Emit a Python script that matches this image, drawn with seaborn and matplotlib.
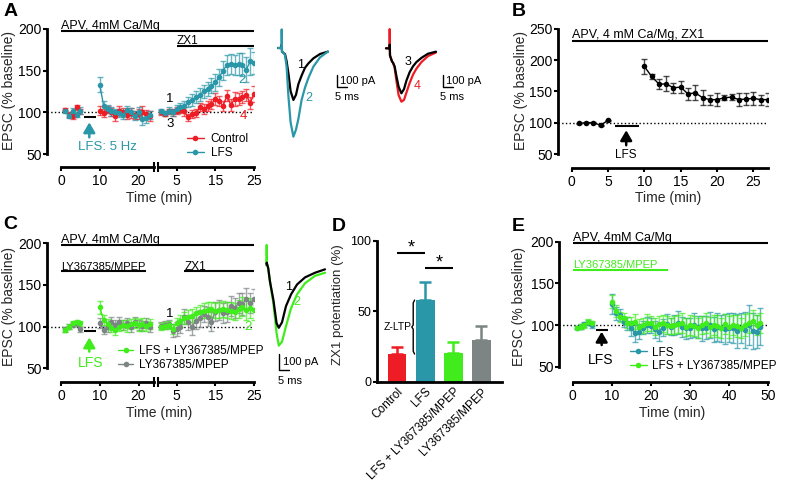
import matplotlib
matplotlib.use('Agg')
import matplotlib.pyplot as plt
import seaborn as sns

W, H = 792, 486

RED = '#ee1c24'
TEAL = '#2a97a8'
GREEN = '#40ec1c'
GRAY = '#7c8484'

# ---------------- data ----------------
# A : control vs LFS, then ZX1
a_t_pre = [1, 2, 3, 4, 5]
a_ctl_pre = [103, 97, 95, 106, 101]
a_ctl_pre_err = [2, 3, 3, 3, 3]
a_lfs_pre = [101, 96, 102, 97, 102]
a_lfs_pre_err = [2, 3, 3, 3, 4]
a_t_post = list(range(10, 24))
a_ctl_post = [102, 99, 103, 100, 95, 102, 100, 97, 99, 97, 98, 100, 98, 96]
a_ctl_post_err = [5, 5, 4, 5, 6, 5, 5, 5, 6, 5, 6, 7, 5, 6]
a_lfs_post = [133, 108, 104, 101, 100, 99, 97, 103, 100, 96, 100, 92, 93, 97]
a_lfs_post_err = [9, 6, 5, 5, 4, 5, 5, 4, 5, 5, 6, 7, 6, 5]
a_t_zx1 = list(range(1, 26))
a_ctl_zx1 = [100, 98, 101, 100, 102, 103, 101, 94, 98, 99, 106, 104, 107, 110, 116,
             113, 108, 120, 109, 116, 116, 118, 121, 111, 122]
a_ctl_zx1_err = [3, 3, 3, 4, 4, 4, 5, 4, 5, 5, 5, 6, 6, 6, 7, 6, 6, 7, 7, 8, 7, 7, 7, 7, 10]
a_lfs_zx1 = [101, 99, 102, 100, 104, 106, 108, 112, 115, 118, 121, 125, 128, 132, 136,
             142, 150, 157, 158, 157, 158, 157, 151, 161, 159]
a_lfs_zx1_err = [3, 3, 4, 4, 5, 5, 6, 6, 7, 7, 8, 8, 8, 9, 10, 10, 11, 12, 12, 12, 13, 14, 15, 16, 13]

# example EPSC traces (ms, pA)
tr_a_t = [0, 1.8, 1.85, 2.0, 3.0, 3.5, 4.3, 5.2, 6.3, 7.7, 9.0, 10.2, 11.8, 13.5, 15.2, 17.7, 21.0, 25.0]
tr_a_1 = [0, 0, 30, -30, -45, -50, -110, -210, -360, -433, -390, -300, -230, -165, -128, -86, -50, -30]
tr_a_2 = [0, 0, 155, -30, -45, -60, -155, -400, -620, -739, -680, -590, -433, -330, -250, -155, -78, -30]
tr_a_3 = [0, 0, 30, -60, -110, -120, -150, -230, -320, -375, -340, -270, -200, -150, -115, -80, -45, -28]
tr_a_4 = [0, 0, 160, -60, -110, -120, -160, -270, -390, -445, -430, -370, -290, -220, -170, -115, -65, -35]
tr_c_t = [1.8, 1.85, 1.95, 2.6, 3.5, 5.2, 6.8, 7.9, 9.5, 11.5, 14.0, 17.0, 21.0, 26.0, 31.0]
tr_c_1 = [0, 15, 10, -20, -108, -226, -376, -405, -370, -265, -190, -126, -80, -50, -28]
tr_c_2 = [0, 129, 11, -20, -108, -247, -441, -520, -495, -395, -280, -190, -118, -70, -50]

# B : LFS in ZX1
b_t_pre = [1, 2, 3, 4, 5]
b_pre = [99, 100, 100, 96, 104]
b_pre_err = [1, 1, 1, 1, 1]
b_t_post = list(range(10, 28))
b_post = [190, 174, 162, 162, 156, 157, 146, 148, 140, 137, 137, 140, 141, 137, 138, 139, 137, 137]
b_post_err = [12, 4, 8, 12, 8, 10, 10, 12, 12, 8, 10, 4, 5, 10, 10, 10, 8, 10]

# C : mGluR block
c_t_pre = [1, 2, 3, 4, 5]
c_ly_pre = [96, 100, 104, 105, 104]
c_ly_pre_err = [3, 3, 3, 3, 3]
c_gr_pre = [97, 100, 103, 104, 97]
c_gr_pre_err = [3, 3, 3, 3, 3]
c_t_post = list(range(10, 24))
c_ly_post = [123, 108, 103, 98, 96, 100, 102, 101, 103, 104, 102, 103, 101, 103]
c_ly_post_err = [8, 6, 6, 5, 6, 5, 6, 7, 6, 6, 7, 7, 6, 6]
c_gr_post = [104, 96, 100, 106, 102, 106, 102, 104, 100, 106, 102, 101, 104, 100]
c_gr_post_err = [6, 5, 6, 6, 6, 6, 6, 6, 6, 6, 6, 6, 6, 6]
c_t_zx1 = list(range(1, 26))
c_ly_zx1 = [100, 101, 102, 97, 104, 107, 110, 112, 113, 116, 118, 119, 120, 121, 119,
            120, 121, 120, 119, 118, 121, 124, 120, 122, 120]
c_ly_zx1_err = [4, 4, 5, 6, 6, 7, 7, 8, 8, 8, 8, 9, 9, 9, 9, 10, 10, 10, 10, 10, 11, 11, 12, 12, 12]
c_gr_zx1 = [101, 102, 103, 95, 97, 100, 112, 105, 100, 107, 110, 115, 112, 106, 118,
            120, 116, 118, 125, 122, 128, 127, 133, 128, 133]
c_gr_zx1_err = [4, 5, 5, 8, 8, 8, 9, 9, 10, 10, 10, 10, 11, 11, 11, 12, 12, 12, 12, 12, 12, 13, 13, 12, 12]

# D : ZX1 potentiation
d_groups = ['Control', 'LFS', 'LFS + LY367385/MPEP', 'LY367385/MPEP']
d_vals = [19.6, 57.9, 20.1, 29.5]
d_errs = [5.2, 12.8, 8.3, 10.0]
d_colors = [RED, TEAL, GREEN, GRAY]

# E : long recording
e_t_pre = [1, 2, 3, 4, 5]
e_lfs_pre = [97, 98, 101, 103, 100]
e_lfs_pre_err = [2, 3, 3, 3, 4]
e_ly_pre = [97, 98, 100, 104, 102]
e_ly_pre_err = [2, 3, 3, 3, 3]
e_t_post = list(range(10, 49))
e_lfs_post = [125, 114, 112, 104, 102, 96, 90, 92, 97, 100, 99, 95, 92, 97, 101, 98, 100, 103, 98, 96,
              97, 100, 98, 96, 97, 100, 95, 98, 96, 95, 97, 96, 93, 96, 94, 100, 93, 92, 98]
e_lfs_post_err = [12, 8, 7, 6, 8, 9, 10, 9, 8, 10, 9, 10, 11, 10, 12, 10, 12, 14, 12, 13,
                  12, 14, 13, 15, 14, 16, 15, 17, 16, 18, 17, 18, 20, 18, 22, 24, 22, 20, 22]
e_ly_post = [128, 117, 110, 108, 103, 102, 104, 98, 100, 103, 102, 98, 101, 102, 100, 99, 100, 101, 102, 98,
             100, 99, 97, 100, 102, 98, 100, 99, 97, 101, 98, 100, 99, 97, 100, 102, 105, 100, 102]
e_ly_post_err = [8, 7, 6, 6, 7, 8, 9, 9, 9, 10, 9, 10, 10, 10, 11, 10, 11, 11, 12, 11,
                 12, 12, 12, 11, 12, 12, 12, 13, 12, 12, 13, 12, 13, 12, 13, 12, 13, 12, 12]

# ---------------- helpers ----------------
sns.set_style('ticks')
plt.rcParams['font.family'] = ['Liberation Sans', 'DejaVu Sans']
plt.rcParams['axes.linewidth'] = 2
plt.rcParams['axes.edgecolor'] = 'k'
plt.rcParams['text.color'] = 'k'

fig = plt.figure(figsize=(W / 100, H / 100), dpi=100)


def px_axes(x0, y0, x1, y1):
    return fig.add_axes([x0 / W, 1 - y1 / H, (x1 - x0) / W, (y1 - y0) / H])


def fig_text(x, y, s, **kw):
    fig.text(x / W, 1 - y / H, s, **kw)


def style(ax, yb=None, xb=None, left=True, size=10):
    sns.despine(ax=ax)
    ax.set_facecolor('none')
    ax.tick_params(axis='both', width=1.5, labelsize=size, colors='k')
    ax.tick_params(axis='y', length=3, pad=1)
    ax.tick_params(axis='x', length=3, pad=2)
    if yb:
        ax.spines['left'].set_bounds(*yb)
    if xb:
        ax.spines['bottom'].set_bounds(*xb)
    if not left:
        ax.spines['left'].set_visible(False)
        ax.tick_params(axis='y', left=False, labelleft=False)


def series(ax, t, m, e, color, label=None, ms=4):
    ax.errorbar(t, m, yerr=e, fmt='none', ecolor=color, elinewidth=1,
                capsize=2, capthick=1, alpha=0.7, zorder=2)
    sns.lineplot(x=t, y=m, color=color, marker='o', markersize=ms, markeredgewidth=0,
                 linewidth=1, label=label, legend=False, ax=ax, zorder=3)
    return ax.get_lines()[-1]


def arrow(ax, x, y0, y1, color):
    ax.annotate('', xy=(x, y1), xytext=(x, y0),
                arrowprops=dict(arrowstyle='-|>,head_width=0.35,head_length=0.6',
                                color=color, lw=1.8, mutation_scale=10, shrinkA=0, shrinkB=0))


def inset(x0, base, ms_px, pa_px, left, right, top, bottom):
    ax = px_axes(x0 - left, base - top, x0 + right, base + bottom)
    ax.set_xlim(-left / ms_px, right / ms_px)
    ax.set_ylim(-bottom / pa_px, top / pa_px)
    ax.axis('off')
    return ax


def scalebar(ax, x, y, tx, ty1, ty2):
    ax.plot([x, x, x + 5], [y + 100, y, y], color='k', lw=1)
    ax.text(x + tx, y + 50, '100 pA', fontsize=8, va='center')
    ax.text(x + ty1, y - ty2, '5 ms', fontsize=8, va='center')


def labels(ax, xl, yl, xpos, ypos, size=10):
    ax.set_xlabel(xl, fontsize=size, va='center')
    ax.set_ylabel(yl, fontsize=size, va='center')
    ax.xaxis.set_label_coords(xpos[0] / W, 1 - xpos[1] / H, transform=fig.transFigure)
    ax.yaxis.set_label_coords(ypos[0] / W, 1 - ypos[1] / H, transform=fig.transFigure)


def breakmarks(ax1, ax2, x1, x2, y):
    for ax, x in ((ax1, x1), (ax2, x2)):
        ax.plot([x], [y], marker='|', ms=7, mew=1.5, color='k', clip_on=False)


# ---------------- panel A ----------------
a1 = px_axes(47, 29, 154, 167.5)
a2 = px_axes(158.2, 29, 254, 167.5)
for ax in (a1, a2):
    ax.set_ylim(33.8, 200)
    ax.axhline(100, ls=':', color='k', lw=1, zorder=1)
a1.set_xlim(-3.62, 24)
a2.set_xlim(0.25, 25)
series(a1, a_t_pre, a_ctl_pre, a_ctl_pre_err, RED)
series(a1, a_t_pre, a_lfs_pre, a_lfs_pre_err, TEAL)
series(a1, a_t_post, a_ctl_post, a_ctl_post_err, RED)
series(a1, a_t_post, a_lfs_post, a_lfs_post_err, TEAL)
h_ctl = series(a2, a_t_zx1, a_ctl_zx1, a_ctl_zx1_err, RED, 'Control')
h_lfs = series(a2, a_t_zx1, a_lfs_zx1, a_lfs_zx1_err, TEAL, 'LFS')
style(a1, yb=(50, 200), xb=(0, 24))
style(a2, xb=(0.25, 25), left=False)
a1.set_yticks([50, 100, 150, 200])
a1.set_xticks([0, 10, 20])
a2.set_xticks([5, 15, 25])
breakmarks(a1, a2, 24, 0.25, 33.8)
a1.hlines(198, 0, 25.2, color='k', lw=1.5, clip_on=False)
a2.hlines(198, 0.25, 25, color='k', lw=1.5, clip_on=False)
a1.text(0, 200.5, 'APV, 4mM Ca/Mg', fontsize=9, va='baseline')
a2.hlines(180, 5, 25, color='k', lw=1.5)
a2.text(5, 182, 'ZX1', fontsize=8.5, va='baseline')
a1.hlines(94, 6, 9, color='k', lw=1.5)
arrow(a1, 7.3, 70, 88, TEAL)
a1.text(12, 59, 'LFS: 5 Hz', color=TEAL, fontsize=9.5, ha='center', va='center')
a2.text(3.3, 116, '1', fontsize=9.5, ha='center', va='center')
a2.text(3.3, 86, '3', fontsize=9.5, ha='center', va='center')
a2.text(21.9, 139, '2', color=TEAL, fontsize=9.5, ha='center', va='center')
a2.text(22.3, 96, '4', color=RED, fontsize=9.5, ha='center', va='center')
a2.legend(handles=[h_ctl, h_lfs], loc='upper left', bbox_to_anchor=(187 / W, 1 - 133 / H),
          bbox_transform=fig.transFigure, frameon=False, fontsize=8.5, handlelength=1.4,
          handletextpad=0.6, borderpad=0, borderaxespad=0, labelspacing=0.15)
labels(a1, 'Time (min)', 'EPSC (% baseline)', (159, 198), (9, 91))
fig_text(4, 3, 'A', fontsize=14, fontweight='bold', va='top')

# traces A
ta = inset(278, 48, 2.0, 0.12, 4, 105, 24, 98)
sns.lineplot(x=tr_a_t, y=tr_a_1, color='k', lw=1.6, ax=ta)
sns.lineplot(x=tr_a_t, y=tr_a_2, color=TEAL, lw=1.6, ax=ta)
ta.text(11.35, -142, '1', fontsize=9, ha='center', va='center')
ta.text(15.65, -419, '2', color=TEAL, fontsize=9, ha='center', va='center')
scalebar(ta, 29.65, -327, 1.5, -1.2, 78)
tb = inset(386, 48.3, 2.0, 0.12, 4, 95, 24, 98)
sns.lineplot(x=tr_a_t, y=tr_a_4, color=RED, lw=1.6, ax=tb)
sns.lineplot(x=tr_a_t, y=tr_a_3, color='k', lw=1.6, ax=tb)
tb.text(11.2, -112, '3', fontsize=9, ha='center', va='center')
tb.text(15.8, -314, '4', color=RED, fontsize=9, ha='center', va='center')
scalebar(tb, 28.4, -325, 1.5, -1.2, 78)

# ---------------- panel B ----------------
b = px_axes(558, 29, 768, 168)
b.set_xlim(-1.88, 27)
b.set_ylim(27.6, 250)
b.axhline(100, ls=':', color='k', lw=1, zorder=1)
series(b, b_t_pre, b_pre, b_pre_err, 'k')
series(b, b_t_post, b_post, b_post_err, 'k')
style(b, yb=(50, 250), xb=(0, 27))
b.set_yticks([50, 100, 150, 200, 250])
b.set_xticks([0, 5, 10, 15, 20, 25])
b.hlines(230, 0, 27, color='k', lw=1.5, clip_on=False)
b.text(0, 235.5, 'APV, 4 mM Ca/Mg, ZX1', fontsize=9, va='baseline')
b.hlines(95, 6, 9.2, color='k', lw=1.5)
arrow(b, 7.5, 64, 88, 'k')
b.text(7.5, 49, 'LFS', fontsize=8.5, ha='center', va='center')
labels(b, 'Time (min)', 'EPSC (% baseline)', (668, 198), (521, 90))
fig_text(512, 3, 'B', fontsize=14, fontweight='bold', va='top')

# ---------------- panel C ----------------
c1 = px_axes(47, 243.3, 154, 381.7)
c2 = px_axes(158.2, 243.3, 254, 381.7)
for ax in (c1, c2):
    ax.set_ylim(33.9, 200)
    ax.axhline(100, ls=':', color='k', lw=1, zorder=1)
c1.set_xlim(-3.62, 24)
c2.set_xlim(0.25, 25)
series(c1, c_t_pre, c_gr_pre, c_gr_pre_err, GRAY)
series(c1, c_t_pre, c_ly_pre, c_ly_pre_err, GREEN)
series(c1, c_t_post, c_gr_post, c_gr_post_err, GRAY)
series(c1, c_t_post, c_ly_post, c_ly_post_err, GREEN)
h_gr = series(c2, c_t_zx1, c_gr_zx1, c_gr_zx1_err, GRAY, 'LY367385/MPEP')
h_ly = series(c2, c_t_zx1, c_ly_zx1, c_ly_zx1_err, GREEN, 'LFS + LY367385/MPEP')
style(c1, yb=(50, 200), xb=(0, 24))
style(c2, xb=(0.25, 25), left=False)
c1.set_yticks([50, 100, 150, 200])
c1.set_xticks([0, 10, 20])
c2.set_xticks([5, 15, 25])
breakmarks(c1, c2, 24, 0.25, 33.9)
c1.hlines(198, 0, 25.2, color='k', lw=1.5, clip_on=False)
c2.hlines(198, 0.25, 25, color='k', lw=1.5, clip_on=False)
c1.text(0, 200.5, 'APV, 4mM Ca/Mg', fontsize=9, va='baseline')
c1.hlines(166.7, 0, 22, color='k', lw=1.5)
c1.text(0, 168.5, 'LY367385/MPEP', fontsize=8, va='baseline')
c2.hlines(166.7, 7, 25, color='k', lw=1.5)
c2.text(7, 168.5, 'ZX1', fontsize=8.5, va='baseline')
c1.hlines(95, 6, 9, color='k', lw=1.5)
arrow(c1, 7.3, 70, 87, GREEN)
c1.text(7.6, 56, 'LFS', color=GREEN, fontsize=10, ha='center', va='center')
c2.text(3.3, 114.8, '1', fontsize=9.5, ha='center', va='center')
c2.text(23.5, 99.2, '2', color=GREEN, fontsize=9.5, ha='center', va='center')
c1.legend(handles=[h_ly, h_gr], loc='upper left', bbox_to_anchor=(118 / W, 1 - 345.2 / H),
          bbox_transform=fig.transFigure, frameon=False, fontsize=8.5, handlelength=1.3,
          handletextpad=0.45, borderpad=0, borderaxespad=0, labelspacing=0.15)
labels(c1, 'Time (min)', 'EPSC (% baseline)', (159, 412.7), (9, 307))
fig_text(3, 216, 'C', fontsize=14, fontweight='bold', va='top')

# traces C
tc = inset(263, 265, 2.0, 0.155, 4, 70, 25, 132)
sns.lineplot(x=tr_c_t, y=tr_c_2, color=GREEN, lw=1.6, ax=tc)
sns.lineplot(x=tr_c_t, y=tr_c_1, color='k', lw=1.6, ax=tc)
tc.text(12.65, -140, '1', fontsize=9, ha='center', va='center')
tc.text(17.15, -237, '2', color=GREEN, fontsize=9, ha='center', va='center')
scalebar(tc, 8.15, -677, 1.8, -0.6, 72)

# ---------------- panel D ----------------
d = px_axes(376.7, 240.7, 501.7, 381.7)
sns.barplot(x=d_groups, y=d_vals, hue=d_groups, palette=d_colors, legend=False,
            width=0.66, saturation=1, ax=d, edgecolor='none')
for i, (v, err, c) in enumerate(zip(d_vals, d_errs, d_colors)):
    d.errorbar([i], [v], yerr=[[0], [err]], fmt='none', ecolor=c, elinewidth=1.8,
               capsize=4, capthick=1.8)
d.set_xlim(-0.73, 3.72)
d.set_ylim(0, 100)
style(d, size=9)
d.set_yticks([0, 50, 100])
d.tick_params(axis='x', length=0, pad=3)
d.set_xticks(range(len(d_groups)))
d.set_xticklabels(d_groups, rotation=45, ha='right', rotation_mode='anchor', fontsize=8.5)
d.hlines(91.5, 0, 1, color='k', lw=1.5, clip_on=False)
d.text(0.5, 95, '*', fontsize=13, ha='center', va='center')
d.hlines(80.4, 1, 2, color='k', lw=1.5)
d.text(1.5, 84, '*', fontsize=13, ha='center', va='center')
mid = (d_vals[0] + d_vals[1]) / 2
d.plot([0.62, 0.57, 0.57, 0.52, 0.57, 0.57, 0.62],
       [d_vals[1], d_vals[1] - 2, mid + 1.5, mid, mid - 1.5, d_vals[0] + 2, d_vals[0]],
       color='k', lw=1)
d.text(0.51, mid, 'Z-LTP', fontsize=7.5, ha='right', va='center')
d.set_xlabel('')
d.set_ylabel('ZX1 potentiation (%)', fontsize=9.5, va='center')
d.yaxis.set_label_coords(338 / W, 1 - 305 / H, transform=fig.transFigure)
fig_text(332, 218, 'D', fontsize=14, fontweight='bold', va='top')

# ---------------- panel E ----------------
e = px_axes(559.3, 241.7, 768.3, 381.7)
e.set_xlim(-3.43, 50)
e.set_ylim(32, 200)
e.axhline(100, ls=':', color='k', lw=1, zorder=1)
series(e, e_t_pre, e_lfs_pre, e_lfs_pre_err, TEAL)
series(e, e_t_pre, e_ly_pre, e_ly_pre_err, GREEN)
h_el = series(e, e_t_post, e_lfs_post, e_lfs_post_err, TEAL, 'LFS')
h_eg = series(e, e_t_post, e_ly_post, e_ly_post_err, GREEN, 'LFS + LY367385/MPEP')
style(e, yb=(50, 200), xb=(0, 50))
e.set_yticks([50, 100, 150, 200])
e.set_xticks([0, 10, 20, 30, 40, 50])
e.hlines(198, 0, 50, color='k', lw=1.5, clip_on=False)
e.text(0, 200.5, 'APV, 4mM Ca/Mg', fontsize=9, va='baseline')
e.hlines(165.6, 0, 24.4, color=GREEN, lw=1.5)
e.text(0, 168.4, 'LY367385/MPEP', color=GREEN, fontsize=8, va='baseline')
e.hlines(94, 6, 9, color='k', lw=1.5)
arrow(e, 7.4, 76, 92, 'k')
e.text(7.2, 58, 'LFS', fontsize=10, ha='center', va='center')
e.legend(handles=[h_el, h_eg], loc='upper left', bbox_to_anchor=(630 / W, 1 - 346.5 / H),
         bbox_transform=fig.transFigure, frameon=False, fontsize=8.5, handlelength=1.4,
         handletextpad=0.5, borderpad=0, borderaxespad=0, labelspacing=0.1)
labels(e, 'Time (min)', 'EPSC (% baseline)', (672, 412.7), (519, 307))
fig_text(512, 218, 'E', fontsize=14, fontweight='bold', va='top')

fig.savefig('out.png', dpi=100, facecolor='white')
